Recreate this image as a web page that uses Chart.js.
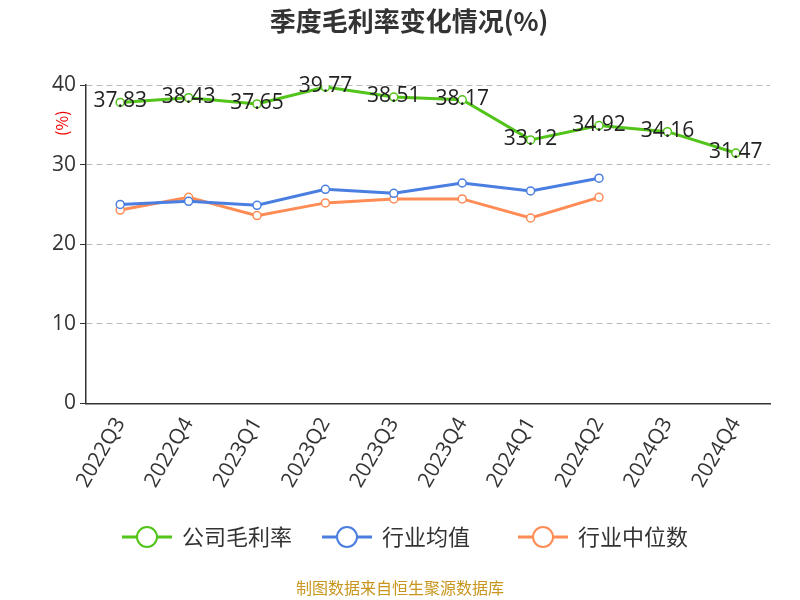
<!DOCTYPE html>
<html><head><meta charset="utf-8">
<script src="https://cdn.jsdelivr.net/npm/chart.js@4"></script>
<style>body{margin:0;background:#fff}#wrap{width:800px;height:600px}</style>
</head><body><div id="wrap"><canvas id="c"></canvas></div>
<script>
const quarters = ['2022Q3','2022Q4','2023Q1','2023Q2','2023Q3','2023Q4','2024Q1','2024Q2','2024Q3','2024Q4'];
const companyMargin = [37.83,38.43,37.65,39.77,38.51,38.17,33.12,34.92,34.16,31.47];
const industryAvg = [25.0,25.4,24.9,26.9,26.4,27.7,26.7,28.3,null,null];
const industryMedian = [24.3,25.9,23.6,25.2,25.7,25.7,23.3,25.9,null,null];
const yTicks = [0,10,20,30,40];

const FONT = '"Noto Sans CJK SC","Noto Sans",sans-serif';
const NUMFONT = '"Open Sans","Noto Sans",sans-serif';
const series = [
  {label:'公司毛利率', data:companyMargin, color:'#52c41a', width:3},
  {label:'行业均值', data:industryAvg, color:'#4a7ee0', width:3},
  {label:'行业中位数', data:industryMedian, color:'#ff8c55', width:3}
];

// value labels on the company line + custom legend + footer
const extras = {
  id:'extras',
  afterDatasetsDraw(chart){
    const ctx = chart.ctx;
    const meta = chart.getDatasetMeta(0);
    ctx.save();
    ctx.font = '21px ' + NUMFONT;
    ctx.fillStyle = '#222';
    ctx.textAlign = 'center';
    ctx.textBaseline = 'middle';
    meta.data.forEach((p,i)=>ctx.fillText(companyMargin[i].toFixed(2), p.x, p.y - 1));
    ctx.restore();
  },
  afterDraw(chart){
    const ctx = chart.ctx;
    ctx.save();
    const xs = [122, 322, 518];
    ctx.font = '22px ' + FONT;
    ctx.textBaseline = 'middle';
    series.forEach((s,i)=>{
      const x = xs[i], y = 537;
      ctx.strokeStyle = s.color; ctx.lineWidth = 3;
      ctx.beginPath(); ctx.moveTo(x,y); ctx.lineTo(x+50,y); ctx.stroke();
      ctx.beginPath(); ctx.arc(x+25,y,10,0,Math.PI*2);
      ctx.fillStyle='#fff'; ctx.fill(); ctx.lineWidth=2; ctx.stroke();
      ctx.fillStyle='#333'; ctx.textAlign='left';
      ctx.fillText(s.label, x+60, y);
    });
    ctx.font = '16px ' + FONT;
    ctx.fillStyle = '#c8961e';
    ctx.textAlign = 'center';
    ctx.fillText('制图数据来自恒生聚源数据库', 400, 588);
    ctx.restore();
  }
};

new Chart(document.getElementById('c'), {
  type:'line',
  data:{
    labels:quarters,
    datasets:series.map(s=>({
      label:s.label, data:s.data, borderColor:s.color, backgroundColor:'#fff',
      borderWidth:s.width, pointRadius:4, pointBorderWidth:1.5,
      pointBackgroundColor:'#fff', pointBorderColor:s.color, tension:0, spanGaps:false
    }))
  },
  options:{
    responsive:true, maintainAspectRatio:false, animation:false,
    layout:{padding:{left:48,right:30,top:0,bottom:106}},
    plugins:{
      legend:{display:false}, tooltip:{enabled:false},
      title:{display:true, text:'季度毛利率变化情况(%)', color:'#333',
        font:{family:FONT,size:26,weight:'bold'}, padding:{top:6,bottom:48}}
    },
    scales:{
      x:{
        offset:true,
        grid:{display:false},
        border:{color:'#333', width:1.5},
        ticks:{color:'#333', font:{family:NUMFONT,size:21}, maxRotation:60, minRotation:60, padding:2}
      },
      y:{
        min:0, max:40,
        afterBuildTicks(axis){ axis.ticks = yTicks.map(v=>({value:v})); },
        grid:{color:'#bbb', drawTicks:true, tickLength:6, tickColor:'#333', tickBorderDash:[0,0]},
        border:{display:true, color:'#333', width:1.5, dash:[6,4]},
        ticks:{color:'#333', font:{family:NUMFONT,size:21}, padding:4},
        title:{display:false}
      }
    }
  },
  plugins:[extras, {
    id:'ytitle',
    afterDraw(chart){
      const ctx = chart.ctx, a = chart.chartArea;
      ctx.save();
      ctx.translate(62, a.top + 38);
      ctx.rotate(-Math.PI/2);
      ctx.font = '16px ' + FONT; ctx.fillStyle = '#e00';
      ctx.textAlign = 'center'; ctx.textBaseline = 'middle';
      ctx.fillText('(%)', 0, 0);
      ctx.restore();
    }
  }]
});
</script></body></html>
